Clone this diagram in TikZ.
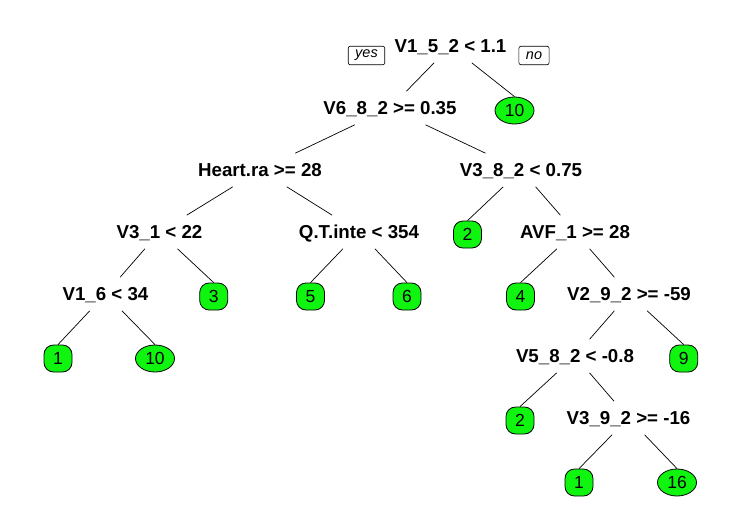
\documentclass[tikz,border=0pt]{standalone}
\usepackage{fontspec}
\setmainfont{Liberation Sans}
\usetikzlibrary{shapes.geometric}
\definecolor{leafgreen}{RGB}{15,245,15}
\begin{document}
\begin{tikzpicture}[x=1pt,y=-1pt,
  split/.style={inner xsep=2pt, inner ysep=10pt, text height=13.2pt, text depth=0pt,
    font=\fontsize{18.7}{20}\selectfont\bfseries},
  leafbase/.style={draw, line width=0.8pt, fill=leafgreen, inner sep=0pt,
    minimum height=27pt, font=\fontsize{17.5}{20}\selectfont},
  leafr/.style={leafbase, rounded corners=9.5pt, minimum width=28pt},
  leafe/.style={leafbase, ellipse, minimum width=39pt},
  yn/.style={draw, line width=0.6pt, rounded corners=2pt, minimum height=18.5pt,
    inner xsep=7pt, inner ysep=0pt, font=\fontsize{14.5}{16}\selectfont\itshape},
  brline/.style={line width=0.7pt}]
\useasboundingbox (0,0) rectangle (741,530);

% split nodes
\node[split] (n1)  at (450.5,46)  {V1\_5\_2 < 1.1};
\node[split] (n2)  at (390,108)   {V6\_8\_2 >= 0.35};
\node[split] (n3)  at (260,170)   {Heart.ra >= 28};
\node[split] (n4)  at (521,170)   {V3\_8\_2 < 0.75};
\node[split] (n5)  at (159.5,232) {V3\_1 < 22};
\node[split] (n6)  at (359,232)   {Q.T.inte < 354};
\node[split] (n7)  at (575,232)   {AVF\_1 >= 28};
\node[split] (n8)  at (105.5,294) {V1\_6 < 34};
\node[split] (n9)  at (629,294)   {V2\_9\_2 >= -59};
\node[split] (n10) at (575,356)   {V5\_8\_2 < -0.8};
\node[split] (n11) at (628.5,418) {V3\_9\_2 >= -16};

% yes / no
\node[yn] (yes) at (366.5,55.5) {yes};
\node[yn] (no)  at (534,55.5)   {no};

% leaves
\node[leafe] (l10a) at (514.5,110.5) {10};
\node[leafr] (l2a)  at (467.5,234.5) {2};
\node[leafr] (l3)   at (213.7,296.5) {3};
\node[leafr] (l5)   at (310.5,296.5) {5};
\node[leafr] (l6)   at (407,296.5)   {6};
\node[leafr] (l4)   at (520.5,296.5) {4};
\node[leafr] (l1a)  at (58,358.5)    {1};
\node[leafe] (l10b) at (155,358.5)   {10};
\node[leafr] (l9)   at (683.7,358.5) {9};
\node[leafr] (l2b)  at (520,420.5)   {2};
\node[leafr] (l1b)  at (579,482.5)   {1};
\node[leafe] (l16)  at (677,482.5)   {16};

% branches
\draw[brline] (n1) -- (n2);
\draw[brline] (n1) -- (l10a.north);
\draw[brline] (n2) -- (n3);
\draw[brline] (n2) -- (n4);
\draw[brline] (n3) -- (n5);
\draw[brline] (n3) -- (n6);
\draw[brline] (n4) -- (l2a.north);
\draw[brline] (n4) -- (n7);
\draw[brline] (n5) -- (n8);
\draw[brline] (n5) -- (l3.north);
\draw[brline] (n6) -- (l5.north);
\draw[brline] (n6) -- (l6.north);
\draw[brline] (n7) -- (l4.north);
\draw[brline] (n7) -- (n9);
\draw[brline] (n8) -- (l1a.north);
\draw[brline] (n8) -- (l10b.north);
\draw[brline] (n9) -- (n10);
\draw[brline] (n9) -- (l9.north);
\draw[brline] (n10) -- (l2b.north);
\draw[brline] (n10) -- (n11);
\draw[brline] (n11) -- (l1b.north);
\draw[brline] (n11) -- (l16.north);
\end{tikzpicture}
\end{document}
